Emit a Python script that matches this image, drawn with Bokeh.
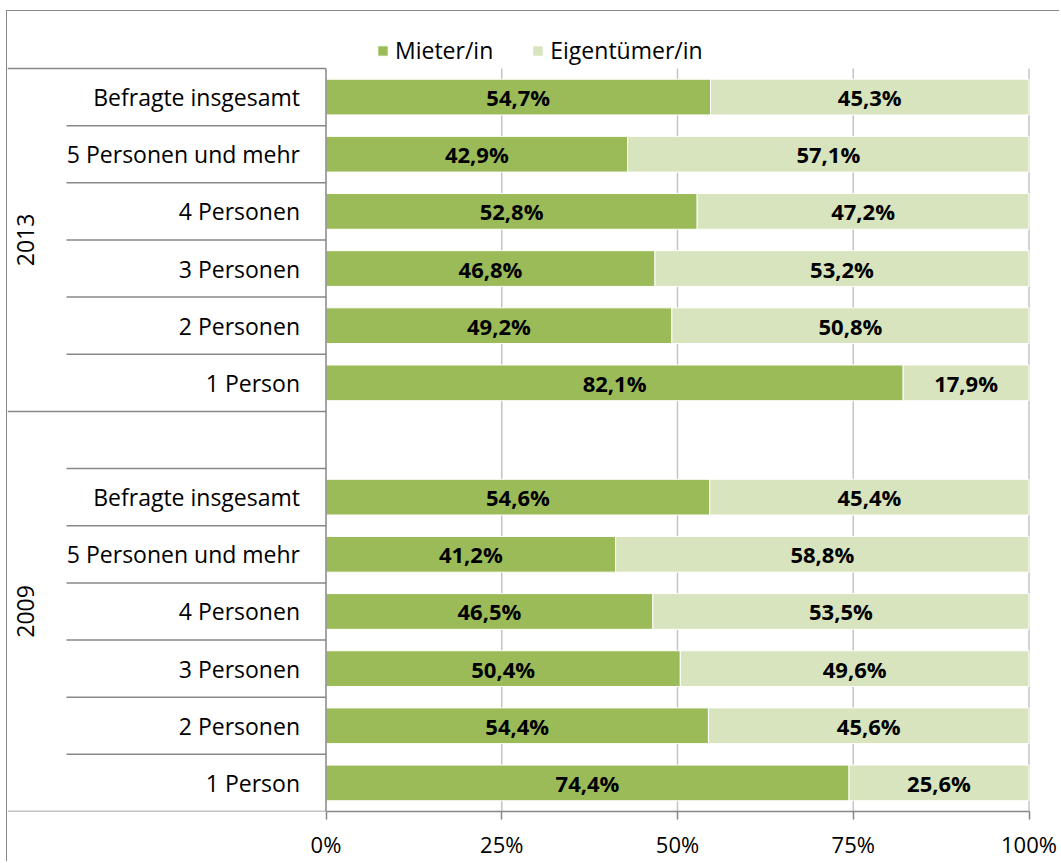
import math
from bokeh.plotting import figure
from bokeh.models import ColumnDataSource, Range1d, Legend, LegendItem, FixedTicker
from bokeh.core.properties import value
from bokeh.embed import file_html
from bokeh.resources import INLINE

# ---------------- data ----------------
categories = ["Befragte insgesamt", "5 Personen und mehr", "4 Personen",
              "3 Personen", "2 Personen", "1 Person"]
years = ["2013", "2009"]
series_names = ["Mieter/in", "Eigentümer/in"]
mieter_2013 = [54.7, 42.9, 52.8, 46.8, 49.2, 82.1]
eigen_2013 = [45.3, 57.1, 47.2, 53.2, 50.8, 17.9]
mieter_2009 = [54.6, 41.2, 46.5, 50.4, 54.4, 74.4]
eigen_2009 = [45.4, 58.8, 53.5, 49.6, 45.6, 25.6]
x_ticks = [0, 25, 50, 75, 100]
x_tick_labels = ["0%", "25%", "50%", "75%", "100%"]

# ---------------- layout constants ----------------
FONT = "Open Sans"
C_MIETER = "#9BBB59"
C_EIGEN = "#D7E4BD"
C_AXIS = "#878787"
C_GRID = "#C4C4C4"
FIG_W, FIG_H = 1053, 851
BOTTOM = 51
FRAME_H = FIG_H - BOTTOM
PLOT_L = 318.5        # px from frame left to 0%
PLOT_W = 703          # px for 0..100%
TOP = 57              # px from frame top to plot top
N_SLOTS = 13
ROW_H = (FRAME_H - TOP) / N_SLOTS
SHORT_SEP_PX = 59     # px from frame left where short separators start

x_start = -PLOT_L / PLOT_W * 100
x_end = (FIG_W - PLOT_L) / PLOT_W * 100
x_short = (SHORT_SEP_PX - PLOT_L) / PLOT_W * 100
y_top = -TOP / ROW_H

# slots: 2013 group 0..5, empty slot 6, 2009 group 7..12
groups = [(years[0], mieter_2013, eigen_2013, 0), (years[1], mieter_2009, eigen_2009, 7)]
ys, cats, mie, eig = [], [], [], []
for yr, m, e, start in groups:
    for i, c in enumerate(categories):
        ys.append(start + i + 0.5)
        cats.append(c)
        mie.append(m[i])
        eig.append(e[i])

def fmt(v):
    return f"{v:.1f}%".replace(".", ",")

src = ColumnDataSource(dict(
    y=ys, cat=cats, m=mie, e=eig,
    zero=[0] * len(ys),
    m_end=mie,
    e_end=[a + b for a, b in zip(mie, eig)],
    m_mid=[a / 2 for a in mie],
    e_mid=[a + b / 2 for a, b in zip(mie, eig)],
    m_lab=[fmt(v) for v in mie],
    e_lab=[fmt(v) for v in eig],
))

p = figure(width=FIG_W, height=FIG_H, output_backend="svg", toolbar_location=None,
           x_range=Range1d(x_start, x_end), y_range=Range1d(N_SLOTS, y_top),
           y_axis_location=None, min_border_left=0, min_border_right=0,
           min_border_top=0, min_border_bottom=BOTTOM)
p.outline_line_color = None
p.xgrid.visible = False
p.ygrid.visible = False
p.styles = {"border-left": f"1px solid {C_AXIS}", "border-top": f"1px solid {C_AXIS}",
            "margin-left": "6px", "margin-top": "10px"}

# gridlines
grid_x = [t for t in x_ticks if t > 0]
p.segment(x0=grid_x, x1=grid_x, y0=[0] * len(grid_x), y1=[N_SLOTS] * len(grid_x),
          line_color=C_GRID, line_width=1.5)

# bars
r1 = p.hbar(y="y", left="zero", right="m_end", height=0.625, source=src,
            fill_color=C_MIETER, line_color="white", line_width=1)
r2 = p.hbar(y="y", left="m_end", right="e_end", height=0.625, source=src,
            fill_color=C_EIGEN, line_color="white", line_width=1)

# value labels
for xcol, tcol in (("m_mid", "m_lab"), ("e_mid", "e_lab")):
    p.text(x=xcol, y="y", text=tcol, source=src, text_align="center",
           text_baseline="middle", text_font=value(FONT), text_font_style="bold",
           text_font_size="22px", text_color="black")

# category labels
p.text(x="zero", y="y", text="cat", source=src, x_offset=-26, text_align="right",
       text_baseline="middle", text_font=value(FONT), text_font_size="23px",
       text_color="black")

# y axis line
p.segment(x0=[0], x1=[0], y0=[0], y1=[N_SLOTS], line_color=C_AXIS, line_width=1.5)

# separators
group_bounds = [0, 6, N_SLOTS]
inner_bounds = [b for b in range(1, N_SLOTS) if b not in group_bounds]
p.segment(x0=[x_start] * len(group_bounds), x1=[0] * len(group_bounds),
          y0=group_bounds, y1=group_bounds, line_color=C_AXIS, line_width=1.5)
p.segment(x0=[x_short] * len(inner_bounds), x1=[0] * len(inner_bounds),
          y0=inner_bounds, y1=inner_bounds, line_color=C_AXIS, line_width=1.5)

# year labels
p.text(x=[x_start] * 2, y=[(group_bounds[0] + group_bounds[1]) / 2,
                            (group_bounds[1] + group_bounds[2]) / 2],
       text=years, x_offset=17.5, angle=math.pi / 2, text_align="center",
       text_baseline="middle", text_font=value(FONT), text_font_size="23px",
       text_color="black")

# x axis
ax = p.xaxis[0]
ax.ticker = FixedTicker(ticks=x_ticks, minor_ticks=[])
ax.major_label_overrides = {t: l for t, l in zip(x_ticks, x_tick_labels)}
ax.bounds = (x_ticks[0], x_ticks[-1])
ax.axis_line_color = C_AXIS
ax.axis_line_width = 1.5
ax.major_tick_line_color = C_AXIS
ax.major_tick_line_width = 1.5
ax.major_tick_out = 8
ax.major_tick_in = 0
ax.minor_tick_line_color = None
ax.major_label_standoff = 9
ax.major_label_text_font = FONT
ax.major_label_text_font_size = "22px"
ax.major_label_text_color = "black"

# legend
LEG_PAD = 4
ITEM_H = 30
legend_left = 380 - 7 - LEG_PAD
legend_bottom = FRAME_H - (36 + ITEM_H / 2 + LEG_PAD)
legend = Legend(items=[LegendItem(label=series_names[0], renderers=[r1]),
                       LegendItem(label=series_names[1], renderers=[r2])],
                orientation="horizontal", location=(legend_left, legend_bottom),
                glyph_width=13, glyph_height=13, label_standoff=6, spacing=38,
                padding=LEG_PAD, margin=0, border_line_color=None,
                background_fill_alpha=0, label_text_font=FONT,
                label_text_font_size="23px", label_text_color="black")
p.add_layout(legend)

open("out.html", "w").write(file_html(p, INLINE))
